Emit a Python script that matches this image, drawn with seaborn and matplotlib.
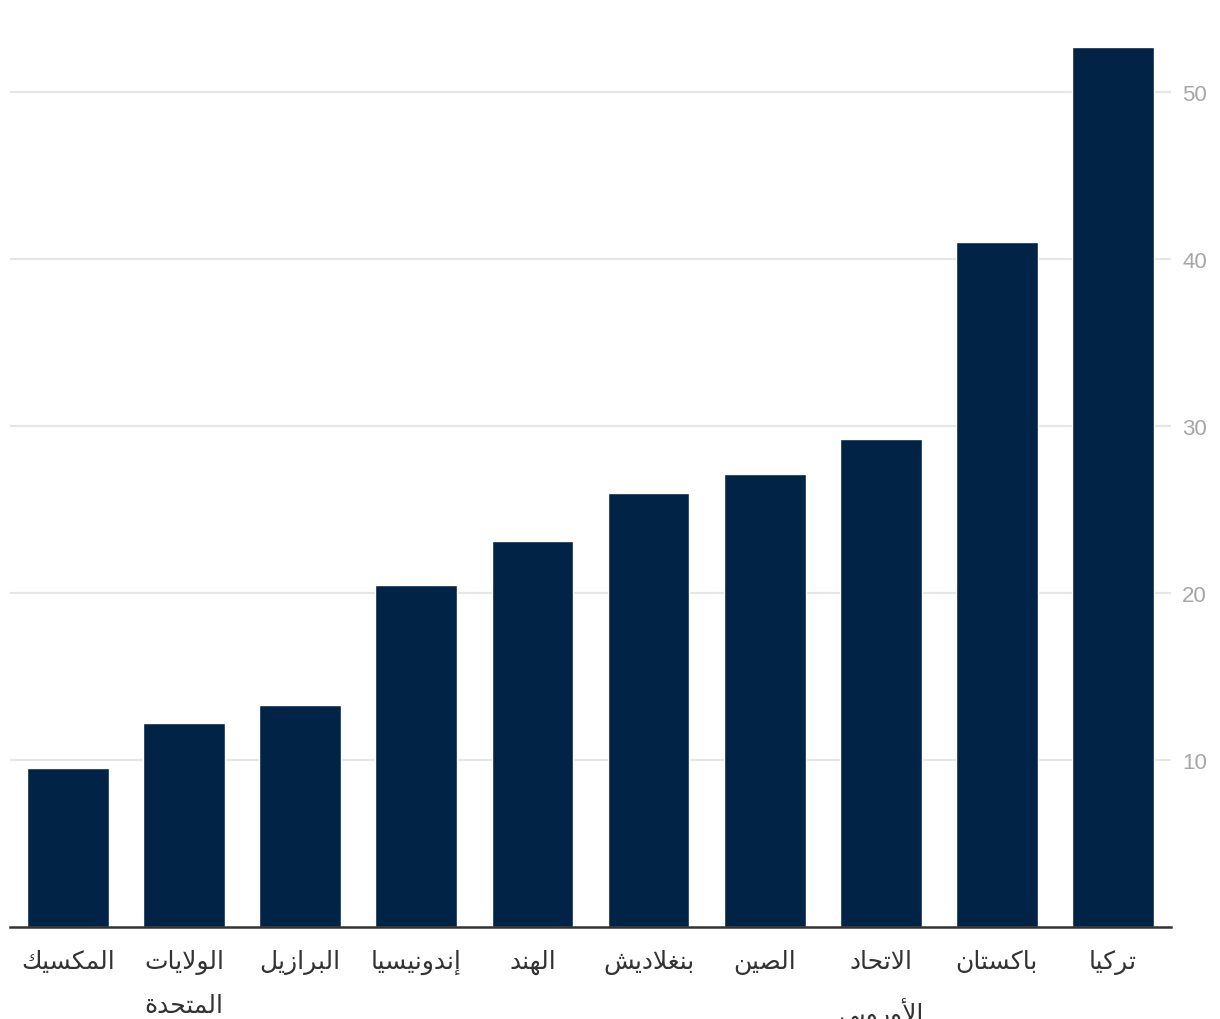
import pandas as pd
import seaborn as sns
from matplotlib import pyplot as plt

countries = ['المكسيك', 'الولايات المتحدة', 'البرازيل', 'إندونيسيا', 'الهند',
             'بنغلاديش', 'الصين', 'الاتحاد الأوروبي', 'باكستان', 'تركيا']
values = [9.5, 12.2, 13.3, 20.5, 23.1, 26.0, 27.1, 29.2, 41.0, 52.7]
y_ticks = [10, 20, 30, 40, 50]

# matplotlib has no arabic shaping, so map letters to presentation forms by hand
# (isolated, final, initial, medial); 2-tuples are right-joining letters
FORMS = {
    'ا': ('\ufe8d', '\ufe8e'), 'أ': ('\ufe83', '\ufe84'), 'إ': ('\ufe87', '\ufe88'),
    'ة': ('\ufe93', '\ufe94'), 'د': ('\ufea9', '\ufeaa'), 'ر': ('\ufead', '\ufeae'),
    'ز': ('\ufeaf', '\ufeb0'), 'و': ('\ufeed', '\ufeee'),
    'ب': ('\ufe8f', '\ufe90', '\ufe91', '\ufe92'), 'ت': ('\ufe95', '\ufe96', '\ufe97', '\ufe98'),
    'ح': ('\ufea1', '\ufea2', '\ufea3', '\ufea4'), 'س': ('\ufeb1', '\ufeb2', '\ufeb3', '\ufeb4'),
    'ش': ('\ufeb5', '\ufeb6', '\ufeb7', '\ufeb8'), 'ص': ('\ufeb9', '\ufeba', '\ufebb', '\ufebc'),
    'غ': ('\ufecd', '\ufece', '\ufecf', '\ufed0'), 'ك': ('\ufed9', '\ufeda', '\ufedb', '\ufedc'),
    'ل': ('\ufedd', '\ufede', '\ufedf', '\ufee0'), 'م': ('\ufee1', '\ufee2', '\ufee3', '\ufee4'),
    'ن': ('\ufee5', '\ufee6', '\ufee7', '\ufee8'), 'ه': ('\ufee9', '\ufeea', '\ufeeb', '\ufeec'),
    'ي': ('\ufef1', '\ufef2', '\ufef3', '\ufef4'),
    'LA': ('\ufefb', '\ufefc'), 'LAH': ('\ufef7', '\ufef8'),
}


def shape_word(word):
    chars = []
    i = 0
    while i < len(word):
        if word[i] == 'ل' and i + 1 < len(word) and word[i + 1] in 'اأ':
            chars.append('LA' if word[i + 1] == 'ا' else 'LAH')
            i += 2
        else:
            chars.append(word[i])
            i += 1
    out = []
    for k, c in enumerate(chars):
        f = FORMS[c]
        prev = k > 0 and len(FORMS[chars[k - 1]]) == 4
        nxt = k + 1 < len(chars) and len(f) == 4
        if prev and nxt:
            out.append(f[3])
        elif prev:
            out.append(f[1])
        elif nxt:
            out.append(f[2])
        else:
            out.append(f[0])
    return ''.join(out)[::-1]


def shape(label):
    # one word per line, like the wrapped labels in the reference
    return '\n'.join(shape_word(w) for w in label.split(' '))


df = pd.DataFrame({'country': [shape(c) for c in countries], 'value': values})

sns.set_theme(style="white")
plt.rcParams['font.family'] = ['Liberation Sans', 'DejaVu Sans']

fig = plt.figure(figsize=(12.2, 10.2), dpi=100)
ax = fig.add_axes([0.0082, 0.0902, 0.9516, 0.9005])
sns.barplot(data=df, x='country', y='value', color='#012346', saturation=1,
            width=0.705, ax=ax, zorder=3)

ax.set_ylim(0, 55)
ax.set_xlim(-0.5, 9.5)
ax.set_yticks(y_ticks)
ax.yaxis.tick_right()
ax.yaxis.grid(True, color='#e6e6e6', linewidth=1.6, zorder=0)
ax.tick_params(axis='y', labelsize=16, labelcolor='#a6a6a6', length=0, pad=8)
ax.tick_params(axis='x', labelsize=18, labelcolor='#333333', length=0, pad=16)
for lab in ax.get_xticklabels():
    lab.set_verticalalignment('top')
    lab.set_linespacing(2.0)
ax.set_xlabel('')
ax.set_ylabel('')
for side in ['top', 'left', 'right']:
    ax.spines[side].set_visible(False)
ax.spines['bottom'].set_color('#333333')
ax.spines['bottom'].set_linewidth(1.8)
ax.spines['bottom'].set_zorder(4)

fig.savefig('out.png', dpi=100)
